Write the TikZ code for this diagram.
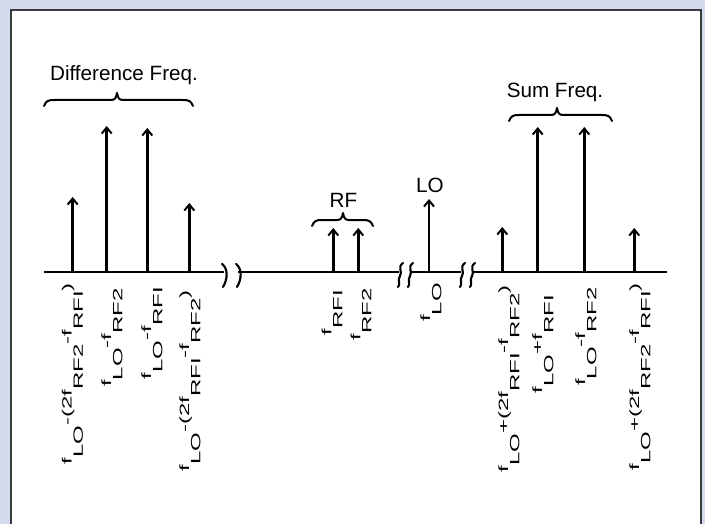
\documentclass[tikz,border=0pt]{standalone}
\usepackage{fontspec}
\setmainfont{Liberation Sans}
\usetikzlibrary{arrows.meta}
\definecolor{panel}{RGB}{211,220,238}
\definecolor{rim}{RGB}{58,58,62}
% subscript set fully below the baseline, as in the spectrum labels
\newcommand\lsb[1]{\raisebox{-15pt}{#1}}
% upright text for the rotated frequency labels, squashed across the line
\newcommand\vlab[1]{\scalebox{1}[0.56]{\fontsize{18pt}{20pt}\selectfont #1}}

\begin{document}
\begin{tikzpicture}[x=0.75pt,y=-0.75pt,
  spec/.style={line width=2.2pt,-{Straight Barb[length=4.5pt,width=7.5pt,line width=1.5pt]}},
  axisline/.style={line width=2.2pt},
  brk/.style={line width=1.6pt,line cap=round},
  curly/.style={line width=1.5pt,line cap=round,line join=round},
  vlabel/.style={rotate=90,anchor=east,inner sep=0pt},
  hlabel/.style={anchor=base,inner sep=0pt,font=\fontsize{15.5pt}{17pt}\selectfont}]

% panel and frame
\useasboundingbox (0,0) rectangle (705,524);
\fill[panel] (0,0) rectangle (705,524);
\fill[white] (11,10) rectangle (701,524);
\draw[rim,line width=1.5pt] (11,524) -- (11,10) -- (701,10) -- (701,524);

% frequency axis with breaks
\coordinate (a0) at (44,272);
\coordinate (a1) at (224,272);
\coordinate (a2) at (238,272);
\coordinate (a3) at (399,272);
\coordinate (a4) at (411,272);
\coordinate (a5) at (461,272);
\coordinate (a6) at (473,272);
\coordinate (a7) at (667,272);
\draw[axisline] (a0) -- (a1);
\draw[axisline] (a2) -- (a3);
\draw[axisline] (a4) -- (a5);
\draw[axisline] (a6) -- (a7);

% break marks
\foreach \bx in {224,238}
  \draw[brk] (\bx-2,264) .. controls (\bx+4,268) and (\bx+4,279) .. (\bx-1,287);
\foreach \bx in {400,410,462,472}
  \draw[brk] (\bx+3,263) .. controls (\bx-3,267) and (\bx+3,272) .. (\bx,276)
             .. controls (\bx-3,280) and (\bx+1,284) .. (\bx-2,287);

% spectral lines
\foreach \nm/\px/\py in {d1/72.7/197, d2/106.7/126, d3/147.3/128, d4/189.3/203,
                         r1/333.3/228, r2/358.3/228, lo/429/199,
                         s1/502.3/227, s2/537.7/127, s3/584.3/127, s4/634.3/228} {
  \coordinate (\nm b) at (\px,272);
  \coordinate (\nm t) at (\px,\py);
  \draw[spec] (\nm b) -- (\nm t);
}

% braces over the groups
\foreach \nm/\xa/\xm/\xb/\yy in {dif/44/117/193/100, rfb/312/343/373/220, sum/509/557/612/115}
  \draw[curly] (\xa,\yy+6) .. controls (\xa+2,\yy+1) and (\xa+4,\yy) .. (\xa+10,\yy)
     -- (\xm-6,\yy) .. controls (\xm-2,\yy) and (\xm-1,\yy-2) .. (\xm,\yy-7)
     .. controls (\xm+1,\yy-2) and (\xm+2,\yy) .. (\xm+6,\yy)
     -- (\xb-10,\yy) .. controls (\xb-4,\yy) and (\xb-2,\yy+1) .. (\xb,\yy+6);

% group captions
\node[hlabel] (tdif) at (124,81) {Difference Freq.};
\node[hlabel] (tsum) at (555,98) {Sum Freq.};
\node[hlabel] (trf)  at (343.5,207) {RF};
\node[hlabel] (tlo)  at (430,192) {LO};

% frequency labels
\node[vlabel] (ld1) at (72.5,283) {\vlab{f\lsb{LO}-(2f\lsb{RF2}-f\lsb{RFI})}};
\node[vlabel] (ld2) at (112,288)  {\vlab{f\lsb{LO}-f\lsb{RF2}}};
\node[vlabel] (ld3) at (152,287)  {\vlab{f\lsb{LO}-f\lsb{RFI}}};
\node[vlabel] (ld4) at (190,290)  {\vlab{f\lsb{LO}-(2f\lsb{RFI}-f\lsb{RF2})}};
\node[vlabel] (lr1) at (332,290)  {\vlab{f\lsb{RFI}}};
\node[vlabel] (lr2) at (361,288)  {\vlab{f\lsb{RF2}}};
\node[vlabel] (llo) at (431,283)  {\vlab{f\lsb{LO}}};
\node[vlabel] (ls1) at (509,285)  {\vlab{f\lsb{LO}+(2f\lsb{RFI}-f\lsb{RF2})}};
\node[vlabel] (ls2) at (543,295)  {\vlab{f\lsb{LO}+f\lsb{RFI}}};
\node[vlabel] (ls3) at (586,287)  {\vlab{f\lsb{LO}-f\lsb{RF2}}};
\node[vlabel] (ls4) at (640,283)  {\vlab{f\lsb{LO}+(2f\lsb{RF2}-f\lsb{RFI})}};
\end{tikzpicture}
\end{document}
